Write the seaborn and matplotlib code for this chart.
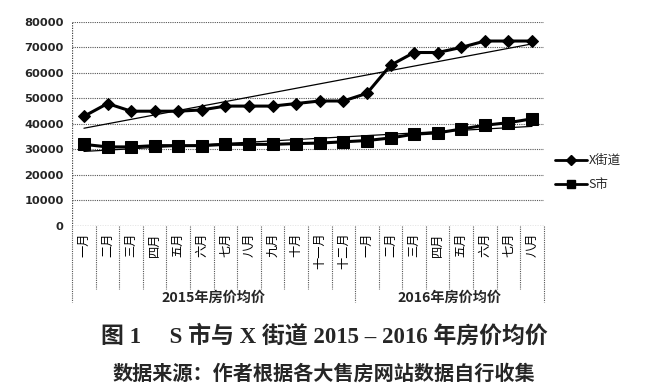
import numpy as np
import pandas as pd
import matplotlib
matplotlib.use("Agg")
import matplotlib.pyplot as plt
import seaborn as sns
from matplotlib.lines import Line2D

sns.set_theme(style="white")
plt.rcParams['font.family'] = ['Noto Sans CJK SC', 'DejaVu Sans']

months_2015 = ["一月", "二月", "三月", "四月", "五月", "六月", "七月", "八月", "九月", "十月", "十一月", "十二月"]
months_2016 = ["一月", "二月", "三月", "四月", "五月", "六月", "七月", "八月"]
group_labels = ["2015年房价均价", "2016年房价均价"]
x_street = [43000, 48000, 45000, 45000, 45000, 45500, 47000, 47000, 47000, 48000, 49000, 49000,
            52000, 63000, 68000, 68000, 70000, 72500, 72500, 72500]
s_city = [32000, 31000, 31000, 31500, 31500, 31500, 32000, 32000, 32000, 32300, 32500, 33000,
          33500, 34500, 36000, 36500, 38000, 39500, 40500, 42000]
series_names = ["X街道", "S市"]
yticks = [0, 10000, 20000, 30000, 40000, 50000, 60000, 70000, 80000]

labels = months_2015 + months_2016
n = len(labels)
pos = np.arange(n)
df = pd.DataFrame({
    "pos": np.concatenate([pos, pos]),
    "value": x_street + s_city,
    "series": [series_names[0]] * n + [series_names[1]] * n,
})

fig = plt.figure(figsize=(6.56, 3.91), dpi=100)
ax = fig.add_axes([0.110, 0.422, 0.719, 0.522])

sns.lineplot(data=df[df.series == series_names[0]], x="pos", y="value", ax=ax,
             color="black", lw=2.2, marker="D", markersize=6, markeredgecolor="black", legend=False)
sns.lineplot(data=df[df.series == series_names[1]], x="pos", y="value", ax=ax,
             color="black", lw=2.2, marker="s", markersize=8, markeredgecolor="black", legend=False)

# linear trend lines
for vals in (x_street, s_city):
    k, b = np.polyfit(pos, vals, 1)
    sns.lineplot(x=pos, y=k * pos + b, ax=ax, color="black", lw=0.9, legend=False)

ax.set_xlim(-0.5, n - 0.5)
ax.set_ylim(0, 80000)
ax.set_yticks(yticks)
ax.set_yticklabels([str(v) for v in yticks], fontsize=8.2, fontweight="bold",
                   family=["DejaVu Sans"])
for v in yticks[1:]:
    ax.axhline(v, color="#555555", lw=0.8, ls=(0, (1, 1)), zorder=0)
for s in ax.spines.values():
    s.set_visible(False)
ax.axhline(0, color="#444444", lw=0.9, ls=(0, (1, 1)))
ax.axvline(-0.5, color="#444444", lw=0.9, ls=(0, (1, 1)))
ax.set_xticks([])
ax.set_xlabel("")
ax.set_ylabel("")
ax.tick_params(axis="y", length=0, pad=6)

trans = ax.get_xaxis_transform()
# month labels
for i, lab in enumerate(labels):
    ax.text(i, -0.03, lab, rotation=90, ha="center", va="top", fontsize=8.8,
            transform=trans, color="black")
# separators
for b in range(n + 1):
    longer = b in (0, 12, n)
    ax.plot([b - 0.5, b - 0.5], [0, -0.37 if longer else -0.31], transform=trans,
            color="#555555", lw=0.8, ls=(0, (1, 1)), clip_on=False)
ax.text(5.5, -0.35, group_labels[0], ha="center", va="center", fontsize=10.2,
        fontweight="bold", transform=trans)
ax.text(15.5, -0.35, group_labels[1], ha="center", va="center", fontsize=10.2,
        fontweight="bold", transform=trans)

handles = [Line2D([], [], color="black", lw=2, marker="D", markersize=5),
           Line2D([], [], color="black", lw=2, marker="s", markersize=6)]
fig.legend(handles, series_names, loc="center left", bbox_to_anchor=(0.838, 0.558),
           frameon=False, fontsize=9, handlelength=2.6, labelspacing=0.9,
           handletextpad=0.1, borderaxespad=0)

fig.text(0.494, 0.14, "图 1　 S 市与 X 街道 2015 – 2016 年房价均价", ha="center", va="center",
         fontsize=16.5, fontweight="bold", family=["Liberation Serif", "Noto Sans CJK SC"])
fig.text(0.494, 0.046, "数据来源：作者根据各大售房网站数据自行收集", ha="center", va="center",
         fontsize=14.5, fontweight="bold")

fig.savefig("out.png", dpi=100, facecolor="white")
